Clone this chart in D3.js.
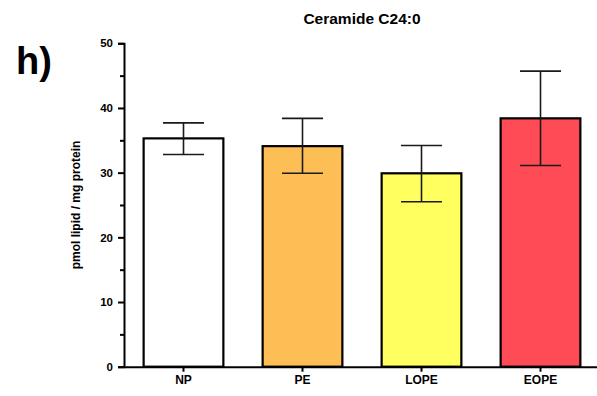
<!DOCTYPE html>
<html lang="en">
<head>
<meta charset="utf-8">
<title>Ceramide C24:0</title>
<script src="https://d3js.org/d3.v7.min.js"></script>
<style>
  body { margin: 0; background: #fff; }
  text { font-family: "Liberation Sans", Arial, sans-serif; font-weight: bold; fill: #000; }
</style>
</head>
<body>
<script>
// data
var groups = ["NP", "PE", "LOPE", "EOPE"];
var means = [35.3, 34.1, 29.9, 38.4];
var errUpper = [37.7, 38.4, 34.2, 45.7];
var errLower = [32.8, 29.9, 25.5, 31.1];
var colors = ["#ffffff", "#fdbf55", "#ffff60", "#ff4b55"];
var yTicks = [0, 10, 20, 30, 40, 50];
var yMinor = [5, 15, 25, 35, 45];

var w = 597, h = 396;
var svg = d3.select("body").append("svg")
    .attr("width", w)
    .attr("height", h);

var x = d3.scaleBand()
    .domain(groups)
    .range([124, 600])
    .paddingInner(0.33)
    .paddingOuter(0.165);

var y = d3.scaleLinear()
    .domain([0, 50])
    .range([366.7, 43.3]);

// panel letter + title
svg.append("text")
    .attr("x", 16).attr("y", 74)
    .attr("font-size", 38)
    .text("h)");

svg.append("text")
    .attr("x", 362).attr("y", 24)
    .attr("text-anchor", "middle")
    .attr("font-size", 15.5)
    .text("Ceramide C24:0");

// bars
svg.selectAll("rect.bar")
    .data(groups)
    .enter().append("rect")
    .attr("class", "bar")
    .attr("x", function(d) { return x(d); })
    .attr("y", function(d, i) { return y(means[i]); })
    .attr("width", x.bandwidth())
    .attr("height", function(d, i) { return y(0) - y(means[i]); })
    .attr("fill", function(d, i) { return colors[i]; })
    .attr("stroke", "#000")
    .attr("stroke-width", 2.2);

// error bars
var capW = 41;
var err = svg.append("g")
    .attr("stroke", "#1a1a1a")
    .attr("stroke-width", 1.6);
groups.forEach(function(g, i) {
  var cx = x(g) + x.bandwidth() / 2;
  err.append("line")
      .attr("x1", cx).attr("x2", cx)
      .attr("y1", y(errUpper[i])).attr("y2", y(errLower[i]));
  err.append("line")
      .attr("x1", cx - capW / 2).attr("x2", cx + capW / 2)
      .attr("y1", y(errUpper[i])).attr("y2", y(errUpper[i]));
  err.append("line")
      .attr("x1", cx - capW / 2).attr("x2", cx + capW / 2)
      .attr("y1", y(errLower[i])).attr("y2", y(errLower[i]));
});

// y axis
var yAxis = svg.append("g")
    .attr("transform", "translate(124,0)")
    .call(d3.axisLeft(y).tickValues(yTicks).tickSize(6).tickPadding(5));
svg.append("g")
    .attr("transform", "translate(124,0)")
    .call(d3.axisLeft(y).tickValues(yMinor).tickSize(4).tickFormat(""))
    .select(".domain").remove();

// x axis
var xAxis = svg.append("g")
    .attr("transform", "translate(0," + y(0) + ")")
    .call(d3.axisBottom(x).tickSize(5).tickSizeOuter(0).tickPadding(4));

svg.selectAll(".tick line, .domain")
    .attr("stroke", "#000")
    .attr("stroke-width", 2);
yAxis.selectAll("text").attr("font-size", 11.5);
xAxis.selectAll("text").attr("font-size", 12);
svg.selectAll(".tick text")
    .attr("font-family", "'Liberation Sans', Arial, sans-serif")
    .attr("font-weight", "bold")
    .attr("fill", "#000");

// y label
svg.append("text")
    .attr("transform", "translate(80,205) rotate(-90)")
    .attr("text-anchor", "middle")
    .attr("font-size", 12)
    .text("pmol lipid / mg protein");
</script>
</body>
</html>
